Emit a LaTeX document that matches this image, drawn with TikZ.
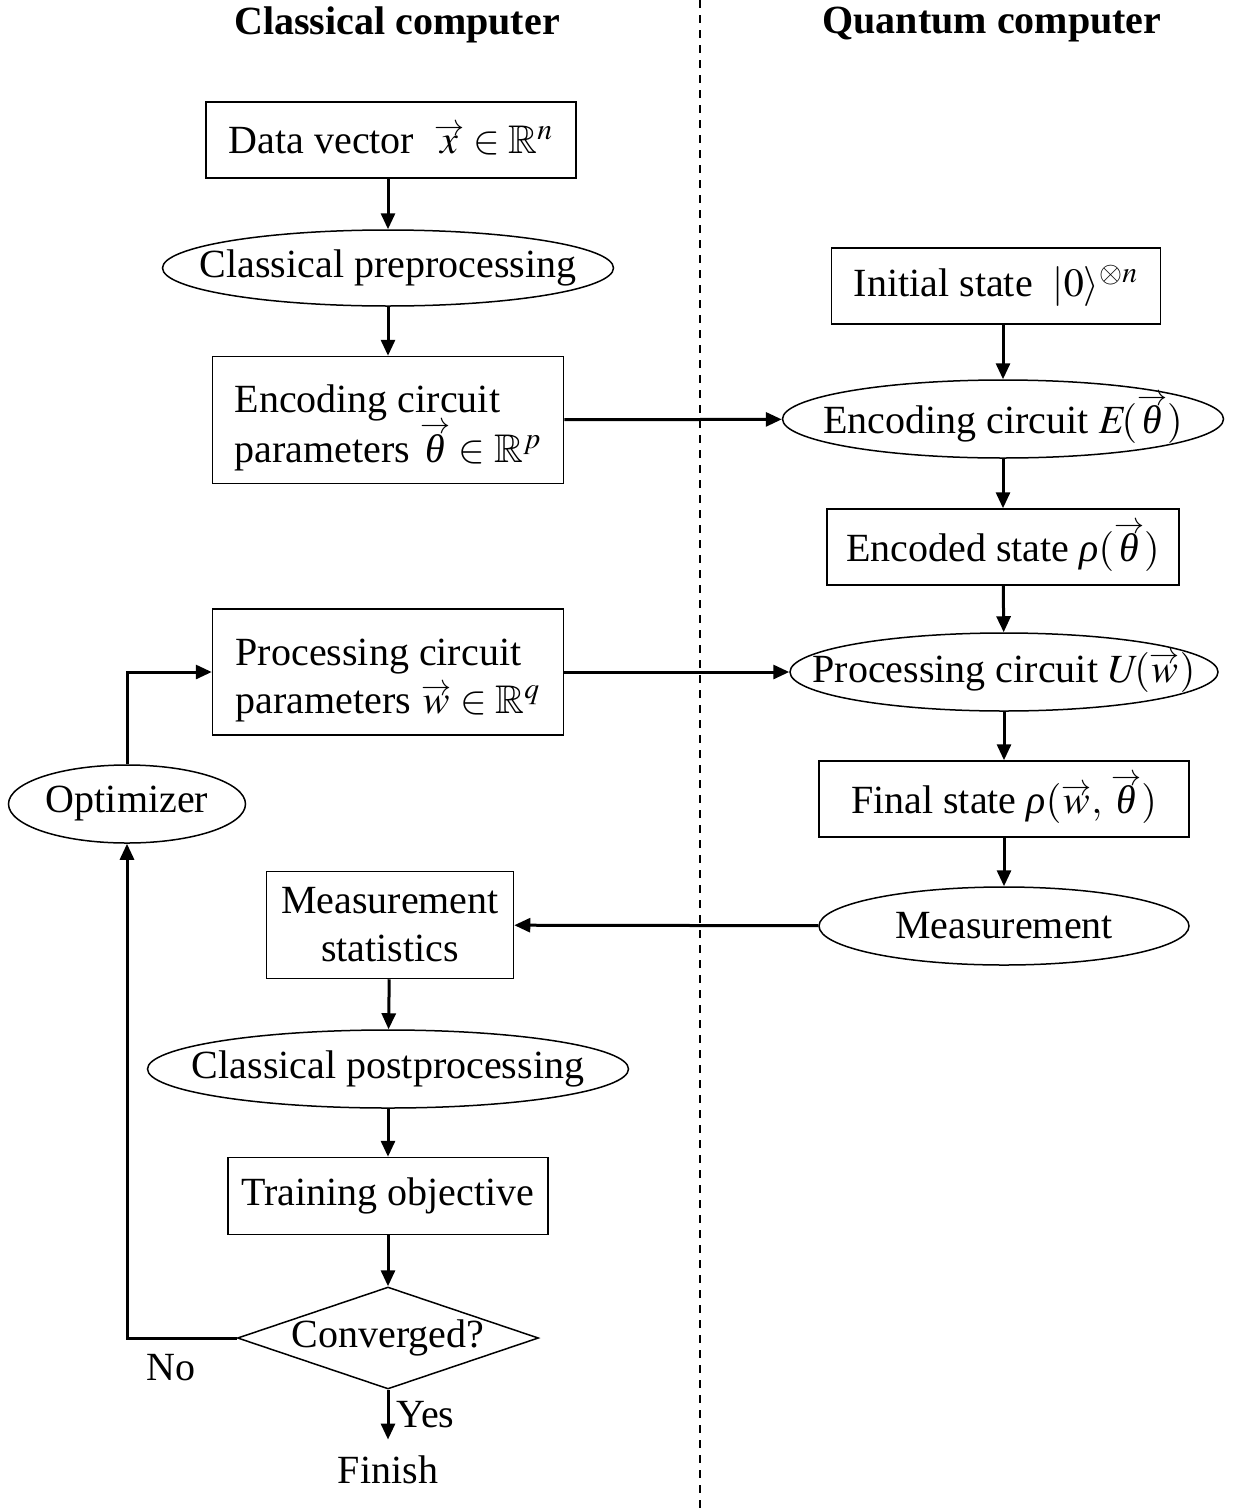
\documentclass[tikz,border=0pt]{standalone}
\usepackage{amsmath,amssymb}
\usepackage{mathptmx}
\usepackage{fontspec}
\setmainfont{Liberation Serif}
\usetikzlibrary{arrows.meta,shapes.geometric}
\newcommand{\vecarr}[1]{\overset{\smash{\raisebox{-3.5pt}{\scalebox{0.75}[0.75]{$\rightarrow$}}}}{#1}}
\newcommand{\thetait}{\text{\itshape θ}}
\newcommand{\rhoit}{\text{\itshape ρ}}
\newcommand{\padtop}{\rule{0pt}{21.7pt}}
\tikzset{
    procbox/.style={draw,line width=0.75pt,rectangle,inner sep=0pt},
    oval/.style={draw,line width=0.75pt,ellipse,inner sep=0pt,
        execute at begin node=\hbox to 0pt\bgroup\hss,
        execute at end node=\hss\egroup},
    decision/.style={draw,line width=0.75pt,diamond,inner sep=0pt,
        execute at begin node=\hbox to 0pt\bgroup\hss,
        execute at end node=\hss\egroup},
    flow/.style={->,line width=1.5pt},
    divider/.style={line width=1pt,dash pattern=on 4pt off 3.5pt},
    heading/.style={font=\fontsize{20}{24}\selectfont\bfseries}
}

\begin{document}
\begin{tikzpicture}[x=0.5pt,y=-0.5pt,>={Triangle[length=8pt,width=7pt]},
    font=\fontsize{20}{24}\selectfont]
    \useasboundingbox (0,0) rectangle (1236,1510);
    % Split between the two machines
    \draw[divider] (700,0) -- (700,1510);
    \node[heading] (classtitle) at (397,25) {Classical computer};
    \node[heading] (quanttitle) at (992,25) {Quantum computer};
    % Classical side
    \node[procbox,minimum width=185pt,minimum height=38pt] (datavec) at (391,140)
        {Data vector \ $\vecarr{x}\in\mathbb{R}^n$};
    \node[oval,minimum width=225.5pt,minimum height=38pt] (prepro) at (388,268)
        {Classical preprocessing};
    \node[procbox,align=left,minimum width=175.5pt,minimum height=63.5pt] (encpar) at (388,420)
        {\padtop Encoding circuit\\parameters $\vecarr{\thetait}\in\mathbb{R}^p$};
    \node[procbox,align=left,minimum width=175.5pt,minimum height=63pt] (procpar) at (388,672)
        {\padtop Processing circuit\\parameters $\vecarr{w}\in\mathbb{R}^q$};
    \node[oval,minimum width=118.5pt,minimum height=39pt] (optim) at (127,804) {Optimizer};
    \node[procbox,align=center,minimum width=123.5pt,minimum height=53.5pt] (measstat) at (390,925)
        {Measurement\\statistics};
    \node[oval,minimum width=240.5pt,minimum height=39pt] (postpro) at (388,1069)
        {Classical postprocessing};
    \node[procbox,minimum width=160pt,minimum height=38.5pt] (trainobj) at (388,1196)
        {Training objective};
    \node[decision,minimum width=150.5pt,minimum height=51pt] (conv) at (388,1338) {Converged?};
    \node[inner sep=8pt] (finish) at (388,1470) {Finish};
    % Quantum side
    \node[procbox,minimum width=164.5pt,minimum height=38pt] (initstate) at (996,286)
        {Initial state \ $|0\rangle^{\otimes n}$};
    \node[oval,minimum width=220.5pt,minimum height=39pt] (enccirc) at (1003,419)
        {Encoding circuit $E\mkern-2mu(\vecarr{\thetait})$};
    \node[procbox,minimum width=176pt,minimum height=38pt] (encstate) at (1003,547)
        {Encoded state $\rhoit(\vecarr{\thetait})$};
    \node[oval,minimum width=214pt,minimum height=39pt] (proccirc) at (1004,672)
        {Processing circuit $U\mkern-2mu(\vecarr{w})$};
    \node[procbox,minimum width=185pt,minimum height=38pt] (finstate) at (1004,799)
        {Final state $\rhoit(\vecarr{w},\,\vecarr{\thetait})$};
    \node[oval,minimum width=185pt,minimum height=39pt] (meas) at (1004,926) {Measurement};
    % Flow
    \draw[flow] (prepro.north |- datavec.south) -- (prepro.north);
    \draw[flow] (prepro) -- (encpar);
    \draw[flow] (encpar) -- (enccirc);
    \draw[flow] (enccirc.north |- initstate.south) -- (enccirc.north);
    \draw[flow] (enccirc) -- (encstate);
    \draw[flow] (encstate) -- (proccirc);
    \draw[flow] (procpar) -- (proccirc);
    \draw[flow] (proccirc) -- (finstate);
    \draw[flow] (finstate) -- (meas);
    \draw[flow] (meas) -- (measstat);
    \draw[flow] (measstat) -- (postpro);
    \draw[flow] (postpro) -- (trainobj);
    \draw[flow] (trainobj) -- (conv);
    \draw[flow] (conv) -- node[right] {Yes} (finish);
    \draw[flow] (conv.west) -- node[below=4pt,pos=0.6] {No} (conv.west -| optim.south) -- (optim.south);
    \draw[flow] (optim.north) |- (procpar.west);
\end{tikzpicture}
\end{document}
